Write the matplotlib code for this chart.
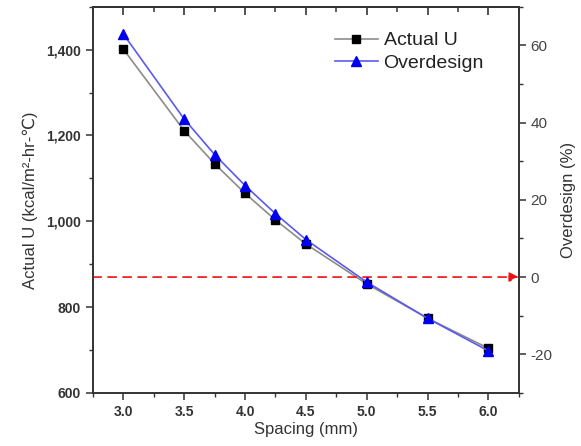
import matplotlib
matplotlib.use("Agg")
import matplotlib.pyplot as plt
from matplotlib.ticker import FuncFormatter, MultipleLocator

spacing = [3.0, 3.5, 3.75, 4.0, 4.25, 4.5, 5.0, 5.5, 6.0]
actual_u = [1401, 1211, 1134, 1065, 1003, 947, 854, 774, 704]
overdesign = [62.9, 40.9, 31.7, 23.7, 16.4, 9.7, -1.3, -10.7, -19.1]
xticks = [3.0, 3.5, 4.0, 4.5, 5.0, 5.5, 6.0]
left_ticks = [600, 800, 1000, 1200, 1400]
right_ticks = [-20, 0, 20, 40, 60]

plt.rcParams['font.family'] = ['Liberation Sans', 'DejaVu Sans']
plt.rcParams['axes.unicode_minus'] = False

fig = plt.figure(figsize=(5.81, 4.46), dpi=100)
ax = fig.add_axes([0.160, 0.119, 0.733, 0.866])
ax2 = ax.twinx()

l1, = ax.plot(spacing, actual_u, color='#8c8c8c', lw=1.2, marker='s', ms=5.5,
              mfc='black', mec='black', label='Actual U', zorder=3)
l2, = ax2.plot(spacing, overdesign, color='#5a5af0', lw=1.2, marker='^', ms=6.5,
               mfc='#0000ee', mec='#0000ee', label='Overdesign', zorder=3)

ax.set_xlim(2.75, 6.25)
ax.set_ylim(600, 1500)
ax2.set_ylim(-30, 70)

# red dashed reference at 0 % overdesign with arrow toward right axis
ax2.annotate('', xy=(6.25, 0), xytext=(2.75, 0),
             arrowprops=dict(arrowstyle='-|>', color='#ee1111', lw=1.2,
                             linestyle=(0, (5, 4)), mutation_scale=14,
                             shrinkA=0, shrinkB=0), zorder=2)

ax.set_xticks(xticks)
ax.xaxis.set_minor_locator(MultipleLocator(0.25))
ax.set_yticks(left_ticks)
ax.yaxis.set_minor_locator(MultipleLocator(100))
ax.yaxis.set_major_formatter(FuncFormatter(lambda v, p: f"{int(v):,}"))
ax2.set_yticks(right_ticks)
ax2.yaxis.set_minor_locator(MultipleLocator(10))

for a in (ax, ax2):
    for s in a.spines.values():
        s.set_color('#333333')
        s.set_linewidth(1.2)

# top spine carries inward ticks via a secondary axis at the top of ax2
top = ax2.secondary_xaxis('top')
top.set_xticks(xticks)
top.xaxis.set_minor_locator(MultipleLocator(0.25))
top.set_xticklabels([])
top.tick_params(axis='x', which='major', direction='in', length=6, width=1.2,
                color='#333333')
top.tick_params(axis='x', which='minor', direction='in', length=3.5, width=1.1,
                color='#333333')
top.spines['top'].set_color('#333333')
top.spines['top'].set_linewidth(1.2)

ax.tick_params(axis='x', which='both', direction='out', top=False, colors='#333333', labelsize=10)
ax.tick_params(axis='x', which='major', length=5, width=1.1)
ax.tick_params(axis='x', which='minor', length=3, width=1.0)
ax.tick_params(axis='y', which='major', direction='out', length=5, width=1.1,
               colors='#333333', labelsize=10)
ax.tick_params(axis='y', which='minor', direction='out', length=3, width=1.0, colors='#333333')
ax2.tick_params(axis='y', which='major', direction='out', length=5, width=1.1,
                colors='#333333', labelsize=11)
ax2.tick_params(axis='y', which='minor', direction='out', length=3, width=1.0, colors='#333333')

for lab in ax.get_xticklabels() + ax.get_yticklabels():
    lab.set_fontweight('bold')
    lab.set_color('#333333')
for lab in ax2.get_yticklabels():
    lab.set_color('#444444')

ax.set_xlabel('Spacing (mm)', fontsize=12, color='#333333', labelpad=2)
ax.set_ylabel('Actual U (kcal/m\u00b2-hr-\u2103)', fontsize=12, color='#333333',
              labelpad=6)
ax2.set_ylabel('Overdesign (%)', fontsize=12, color='#333333', labelpad=6)

leg = ax2.legend([l1, l2], ['Actual U', 'Overdesign'], loc='upper left',
                 bbox_to_anchor=(0.55, 0.955), frameon=False, fontsize=14,
                 handlelength=2.2, handletextpad=0.3, labelspacing=0.25,
                 borderaxespad=0)
for t in leg.get_texts():
    t.set_color('#222222')

fig.savefig('out.png', dpi=100)
